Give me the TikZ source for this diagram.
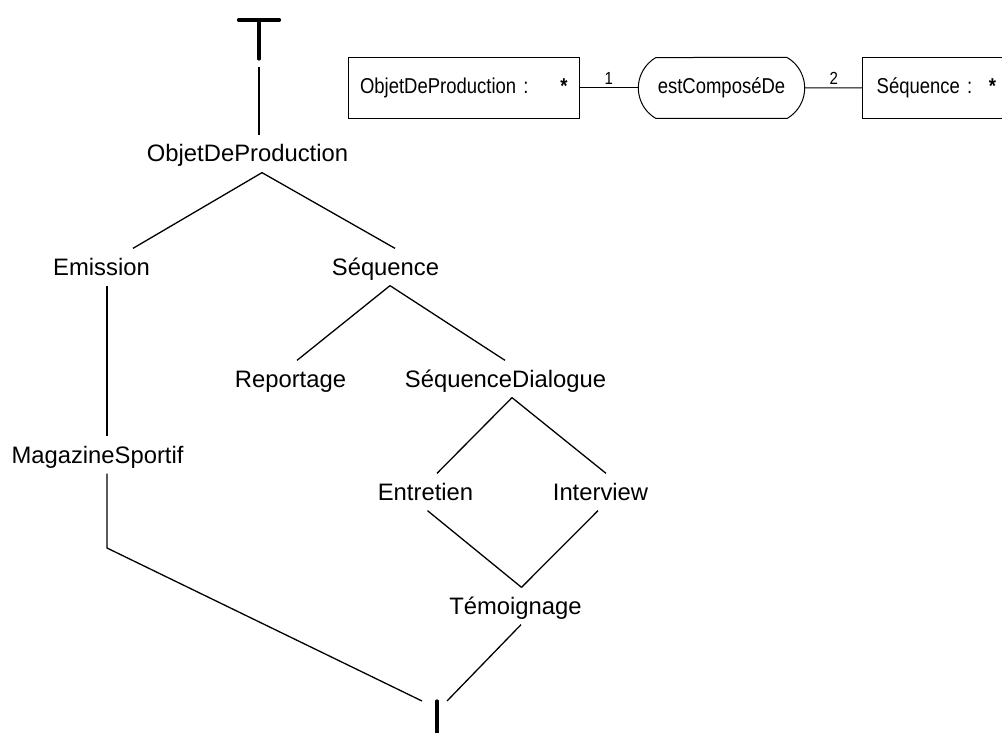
\documentclass[tikz,border=0pt]{standalone}
\usepackage{fontspec}
\setmainfont{Liberation Sans}
\newfontfamily\boxfont[FakeStretch=0.86]{Liberation Sans}
\usetikzlibrary{calc}
\usetikzlibrary{shapes.misc}

\begin{document}
\begin{tikzpicture}[x=1pt,y=-1pt,-,line width=1.3pt,
	tnode/.style={anchor=base, inner xsep=0pt, inner ysep=9pt, text height=17pt, text depth=1pt, font=\fontsize{23.8}{26}\selectfont},
	box/.style={draw, line width=1pt, minimum height=61pt, inner xsep=12pt, font=\boxfont\fontsize{21.5}{24}\selectfont},
	relation/.style={draw, line width=1pt, rounded rectangle, rounded rectangle arc length=120, minimum width=173pt, minimum height=61pt, font=\boxfont\fontsize{21.5}{24}\selectfont},
	card/.style={above, inner sep=2.5pt, font=\boxfont\fontsize{17.5}{20}\selectfont},
	bound/.style={line width=3.2pt, line cap=round}]

\useasboundingbox (0,0) rectangle (1002,733);

% The lattice of types
\node[tnode] (odp) at (247.5,162) {ObjetDeProduction};
\node[tnode] (em) at (101.5,275) {Emission};
\node[tnode] (seq) at (385.5,275) {Séquence};
\node[tnode] (rep) at (290.5,387) {Reportage};
\node[tnode] (sd) at (505.5,387) {SéquenceDialogue};
\node[tnode] (ms) at (97.5,463) {MagazineSportif};
\node[tnode] (ent) at (425.5,500) {Entretien};
\node[tnode] (itv) at (600.5,500) {Interview};
\node[tnode] (tem) at (515.5,614) {Témoignage};

% Top and bottom
\draw[bound] (238.5,20) -- (279.5,20);
\draw[bound] (259,20) -- (259,59);
\coordinate (top) at (259,67);
\coordinate (bot) at (437,701);
\draw[bound] (bot) -- (437,745);
\coordinate (kink) at (107,548);

\draw (top) -- ([xshift=11.5pt]odp.north);
\draw ([xshift=14.5pt]odp.south) -- ([xshift=31.5pt]em.north);
\draw ([xshift=14.5pt]odp.south) -- ([xshift=9.5pt]seq.north);
\draw ([xshift=5.5pt]em.south) -- ([xshift=9.5pt]ms.north);
\draw ([xshift=4.5pt]seq.south) -- ([xshift=6.5pt]rep.north);
\draw ([xshift=4.5pt]seq.south) -- ([xshift=-0.5pt]sd.north);
\draw ([xshift=6.5pt]sd.south) -- ([xshift=11.5pt]ent.north);
\draw ([xshift=6.5pt]sd.south) -- ([xshift=5.5pt]itv.north);
\draw ([xshift=2pt]ent.south) -- ([xshift=6pt]tem.north);
\draw ([xshift=-2.5pt]itv.south) -- ([xshift=6pt]tem.north);
\draw ([xshift=9.5pt]ms.south) -- (kink) -- ([xshift=-15pt]bot);
\draw ([xshift=5.5pt]tem.south) -- ([xshift=10pt]bot);

% The relation
\node[box, minimum width=231.5pt, text width=207.5pt] (opbox) at (463.75,88) {ObjetDeProduction :\hfill\textbf{*}};
\node[relation] (rel) at (721.5,88) {estComposéDe};
\node[box, minimum width=147.3pt, text width=119.3pt, inner xsep=14pt] (sqbox) at (936.35,88) {Séquence :\hfill\textbf{*}};

\draw[line width=1pt] (opbox) -- node[card] {1} (rel);
\draw[line width=1pt] (rel) -- node[card] {2} (sqbox);

\end{tikzpicture}
\end{document}
